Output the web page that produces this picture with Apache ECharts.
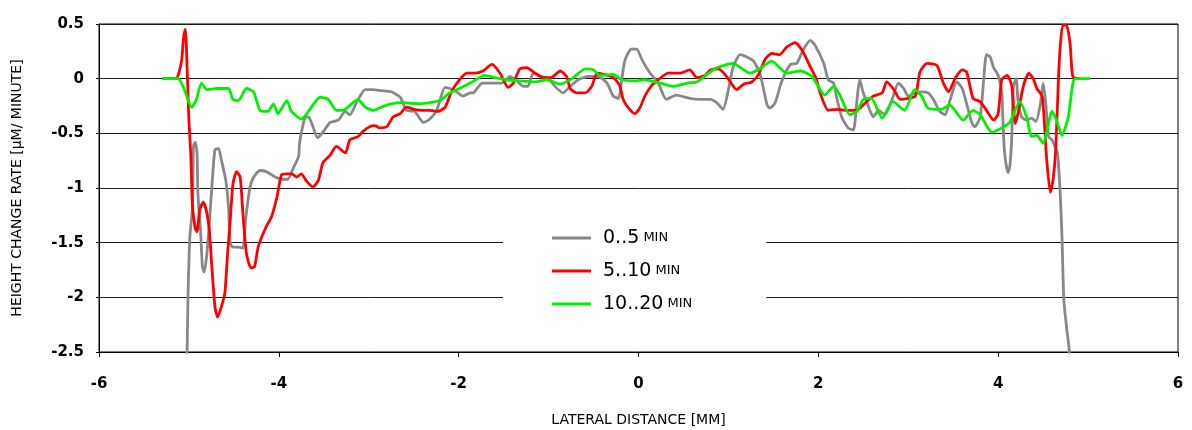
<!DOCTYPE html>
<html>
<head>
<meta charset="utf-8">
<script src="https://cdn.jsdelivr.net/npm/echarts@6/dist/echarts.min.js"></script>
<style>
html,body{margin:0;padding:0;background:#fff;}
#chart{width:1192px;height:430px;}
</style>
</head>
<body>
<div id="chart"></div>
<script>
// ---- data (lateral distance [mm], height change rate [µm/min]) ----
const seriesNames = ['0..5 MIN', '5..10 MIN', '10..20 MIN'];
const xTicks = [-6, -4, -2, 0, 2, 4, 6];
const yTicks = [0.5, 0, -0.5, -1, -1.5, -2, -2.5];
const xAxisTitle = 'LATERAL DISTANCE [MM]';
const yAxisTitle = 'HEIGHT CHANGE RATE [µM/ MINUTE]';

const gray05 = [[-5.04,-3.0],[-5.02,-2.48],[-5.01,-1.99],[-4.99,-1.45],[-4.96,-1.17],[-4.95,-0.62],[-4.93,-0.58],[-4.91,-0.68],[-4.90,-1.05],[-4.87,-1.40],[-4.85,-1.72],[-4.83,-1.77],[-4.80,-1.60],[-4.77,-1.29],[-4.74,-0.93],[-4.71,-0.65],[-4.67,-0.64],[-4.64,-0.74],[-4.59,-0.93],[-4.56,-1.17],[-4.54,-1.51],[-4.51,-1.54],[-4.45,-1.54],[-4.40,-1.55],[-4.37,-1.29],[-4.32,-0.99],[-4.28,-0.90],[-4.21,-0.84],[-4.14,-0.85],[-4.04,-0.90],[-3.97,-0.92],[-3.90,-0.92],[-3.84,-0.82],[-3.78,-0.71],[-3.77,-0.59],[-3.71,-0.36],[-3.67,-0.35],[-3.62,-0.44],[-3.57,-0.54],[-3.51,-0.49],[-3.43,-0.40],[-3.34,-0.38],[-3.26,-0.30],[-3.21,-0.33],[-3.13,-0.21],[-3.04,-0.10],[-2.95,-0.10],[-2.86,-0.11],[-2.75,-0.12],[-2.65,-0.17],[-2.58,-0.29],[-2.49,-0.30],[-2.39,-0.40],[-2.32,-0.37],[-2.24,-0.28],[-2.15,-0.08],[-2.06,-0.10],[-1.95,-0.16],[-1.87,-0.13],[-1.84,-0.13],[-1.74,-0.04],[-1.63,-0.04],[-1.52,-0.04],[-1.43,0.02],[-1.34,-0.03],[-1.28,-0.07],[-1.23,-0.07],[-1.17,0.05],[-1.08,0.02],[-1.0,0],[-0.93,-0.07],[-0.84,-0.13],[-0.76,-0.07],[-0.67,-0.01],[-0.56,0.02],[-0.45,0.02],[-0.35,-0.04],[-0.28,-0.16],[-0.22,-0.18],[-0.19,-0.03],[-0.15,0.17],[-0.08,0.27],[-0.02,0.27],[0.04,0.17],[0.13,0.05],[0.22,-0.04],[0.31,-0.19],[0.42,-0.15],[0.57,-0.18],[0.68,-0.19],[0.80,-0.19],[0.87,-0.22],[0.94,-0.28],[1.0,-0.10],[1.05,0.10],[1.13,0.22],[1.20,0.20],[1.28,0.16],[1.35,0.05],[1.43,-0.24],[1.46,-0.27],[1.52,-0.22],[1.59,-0.03],[1.69,0.13],[1.76,0.14],[1.83,0.26],[1.91,0.35],[1.96,0.31],[2.06,0.14],[2.11,-0.01],[2.17,-0.04],[2.20,-0.16],[2.26,-0.35],[2.33,-0.45],[2.39,-0.47],[2.43,-0.19],[2.46,-0.01],[2.50,-0.13],[2.56,-0.26],[2.61,-0.35],[2.67,-0.29],[2.74,-0.33],[2.82,-0.19],[2.89,-0.04],[2.95,-0.09],[3.0,-0.16],[3.08,-0.13],[3.15,-0.12],[3.22,-0.13],[3.28,-0.19],[3.35,-0.30],[3.41,-0.33],[3.46,-0.21],[3.54,-0.03],[3.60,-0.09],[3.65,-0.23],[3.71,-0.41],[3.74,-0.44],[3.80,-0.35],[3.84,0],[3.87,0.22],[3.91,0.20],[3.95,0.10],[4.0,0.03],[4.04,-0.13],[4.06,-0.53],[4.08,-0.74],[4.11,-0.86],[4.13,-0.80],[4.15,-0.56],[4.17,-0.07],[4.20,0],[4.22,-0.19],[4.26,-0.35],[4.32,-0.38],[4.37,-0.36],[4.42,-0.39],[4.47,-0.23],[4.50,-0.04],[4.53,-0.23],[4.56,-0.53],[4.60,-0.56],[4.63,-0.62],[4.66,-0.68],[4.69,-1.05],[4.71,-1.45],[4.73,-2.02],[4.76,-2.27],[4.79,-2.48],[4.80,-2.7]];

const red510 = [[-5.30,0],[-5.14,0],[-5.12,0.03],[-5.08,0.17],[-5.06,0.37],[-5.04,0.45],[-5.03,0.34],[-5.0,-0.38],[-4.98,-0.68],[-4.96,-1.17],[-4.93,-1.37],[-4.91,-1.40],[-4.88,-1.20],[-4.84,-1.13],[-4.80,-1.23],[-4.77,-1.41],[-4.75,-1.66],[-4.71,-2.09],[-4.68,-2.18],[-4.64,-2.09],[-4.60,-1.96],[-4.57,-1.60],[-4.54,-1.29],[-4.51,-0.96],[-4.47,-0.85],[-4.43,-0.90],[-4.40,-1.23],[-4.36,-1.60],[-4.31,-1.73],[-4.27,-1.72],[-4.23,-1.54],[-4.15,-1.37],[-4.08,-1.26],[-4.02,-1.08],[-3.97,-0.88],[-3.91,-0.87],[-3.86,-0.87],[-3.80,-0.90],[-3.75,-0.87],[-3.69,-0.94],[-3.62,-0.99],[-3.56,-0.93],[-3.51,-0.77],[-3.43,-0.70],[-3.36,-0.62],[-3.26,-0.68],[-3.21,-0.56],[-3.12,-0.53],[-3.06,-0.48],[-2.99,-0.44],[-2.93,-0.43],[-2.88,-0.45],[-2.80,-0.44],[-2.73,-0.35],[-2.65,-0.32],[-2.58,-0.26],[-2.50,-0.28],[-2.41,-0.29],[-2.32,-0.29],[-2.23,-0.30],[-2.15,-0.26],[-2.08,-0.12],[-2.0,-0.02],[-1.91,0.05],[-1.82,0.05],[-1.73,0.07],[-1.63,0.13],[-1.54,0.05],[-1.45,-0.08],[-1.39,-0.04],[-1.32,0.09],[-1.24,0.10],[-1.15,0.05],[-1.06,0.01],[-0.97,0.01],[-0.87,0.07],[-0.80,0.02],[-0.76,-0.09],[-0.69,-0.13],[-0.59,-0.13],[-0.52,-0.07],[-0.46,0.05],[-0.39,0.04],[-0.28,0.01],[-0.21,-0.06],[-0.17,-0.19],[-0.11,-0.27],[-0.04,-0.32],[0.02,-0.26],[0.07,-0.16],[0.15,-0.06],[0.22,-0.01],[0.33,0.05],[0.46,0.05],[0.57,0.08],[0.65,0.01],[0.74,0.03],[0.80,0.08],[0.89,0.09],[0.98,0.02],[1.09,-0.10],[1.17,-0.05],[1.26,-0.03],[1.33,0.03],[1.41,0.18],[1.48,0.23],[1.57,0.22],[1.65,0.29],[1.74,0.33],[1.82,0.26],[1.91,0.11],[1.98,-0.01],[2.02,-0.13],[2.11,-0.29],[2.20,-0.28],[2.32,-0.29],[2.43,-0.29],[2.50,-0.24],[2.61,-0.16],[2.71,-0.13],[2.76,-0.03],[2.84,-0.10],[2.91,-0.19],[3.0,-0.18],[3.08,-0.16],[3.13,0.06],[3.21,0.14],[3.32,0.12],[3.39,-0.04],[3.45,-0.12],[3.52,0],[3.60,0.08],[3.65,0.06],[3.72,-0.18],[3.80,-0.21],[3.87,-0.29],[3.95,-0.38],[4.0,-0.32],[4.04,-0.01],[4.10,0.03],[4.15,-0.06],[4.19,-0.41],[4.22,-0.32],[4.28,-0.07],[4.34,0.05],[4.39,0],[4.43,-0.09],[4.49,-0.16],[4.54,-0.74],[4.58,-1.04],[4.61,-0.93],[4.64,-0.65],[4.67,-0.01],[4.69,0.29],[4.72,0.49],[4.76,0.49],[4.80,0.32],[4.83,0.02],[4.90,0]];

const green1020 = [[-5.30,0],[-5.12,0],[-5.05,-0.10],[-4.97,-0.26],[-4.92,-0.20],[-4.86,-0.04],[-4.80,-0.10],[-4.69,-0.09],[-4.56,-0.09],[-4.51,-0.19],[-4.45,-0.20],[-4.36,-0.09],[-4.28,-0.12],[-4.21,-0.29],[-4.12,-0.30],[-4.06,-0.23],[-4.01,-0.32],[-3.91,-0.20],[-3.86,-0.30],[-3.75,-0.37],[-3.54,-0.17],[-3.45,-0.19],[-3.36,-0.29],[-3.28,-0.29],[-3.19,-0.23],[-3.12,-0.19],[-3.04,-0.26],[-2.95,-0.29],[-2.86,-0.26],[-2.75,-0.23],[-2.62,-0.22],[-2.43,-0.23],[-2.21,-0.20],[-2.10,-0.13],[-1.99,-0.09],[-1.87,-0.04],[-1.71,0.03],[-1.60,0.01],[-1.47,-0.01],[-1.32,-0.02],[-1.15,-0.03],[-1.02,-0.01],[-0.87,-0.05],[-0.74,0],[-0.59,0.09],[-0.50,0.08],[-0.43,0.03],[-0.28,0.04],[-0.19,-0.01],[-0.04,-0.02],[0.07,-0.01],[0.24,-0.04],[0.39,-0.07],[0.54,-0.04],[0.65,-0.03],[0.78,0.05],[0.87,0.10],[1.05,0.14],[1.24,0.05],[1.35,0.09],[1.48,0.16],[1.65,0.05],[1.80,0.07],[1.93,0.02],[2.02,-0.10],[2.07,-0.15],[2.17,-0.07],[2.24,-0.15],[2.35,-0.33],[2.43,-0.30],[2.50,-0.19],[2.59,-0.18],[2.71,-0.36],[2.83,-0.21],[2.96,-0.29],[3.07,-0.10],[3.15,-0.16],[3.22,-0.27],[3.37,-0.28],[3.46,-0.24],[3.61,-0.38],[3.72,-0.29],[3.80,-0.33],[3.93,-0.49],[4.04,-0.45],[4.13,-0.40],[4.24,-0.21],[4.32,-0.36],[4.37,-0.53],[4.43,-0.52],[4.50,-0.59],[4.60,-0.30],[4.65,-0.38],[4.71,-0.52],[4.78,-0.35],[4.84,-0.01],[4.91,0],[5.02,0]];

const seriesColors = ['#888888', '#ff0000', '#00f000'];
const seriesData = [gray05, red510, green1020];

// ---- chart ----
const FONT = 'DejaVu Sans';
const chart = echarts.init(document.getElementById('chart'), null, {renderer: 'canvas'});
chart.setOption({
  animation: false,
  backgroundColor: '#fff',
  grid: {left: 99, right: 14, top: 24, bottom: 78, outerBoundsMode: 'none', containLabel: false, show: true, borderColor: '#000', borderWidth: 1, backgroundColor: 'transparent'},
  legend: {
    left: 503, top: 222,
    orient: 'vertical',
    backgroundColor: '#fff',
    padding: [6, 74, 6, 49],
    itemGap: 13,
    itemWidth: 39, itemHeight: 3,
    icon: 'rect',
    data: seriesNames,
    formatter: function (name) {
      const parts = name.split(' ');
      return '{a|' + parts[0] + '}{b| ' + parts[1] + '}';
    },
    textStyle: {
      padding: [0, 0, 0, 7],
      lineHeight: 20,
      rich: {
        a: {fontFamily: FONT, fontSize: 19, color: '#000', lineHeight: 20},
        b: {fontFamily: FONT, fontSize: 13, color: '#000', lineHeight: 20}
      }
    }
  },
  xAxis: {
    type: 'value',
    min: xTicks[0], max: xTicks[xTicks.length - 1], interval: 2,
    name: xAxisTitle,
    nameLocation: 'middle',
    nameGap: 61,
    nameTextStyle: {fontFamily: FONT, fontSize: 14, color: '#000'},
    axisLine: {onZero: false, lineStyle: {color: '#000', width: 1}},
    axisTick: {show: true, length: 5, lineStyle: {color: '#000'}},
    axisLabel: {fontFamily: FONT, fontSize: 15, fontWeight: 'bold', color: '#000', margin: 25},
    splitLine: {show: false}
  },
  yAxis: {
    type: 'value',
    min: yTicks[yTicks.length - 1], max: yTicks[0], interval: 0.5,
    name: yAxisTitle,
    nameLocation: 'middle',
    nameGap: 75,
    nameRotate: 90,
    nameTextStyle: {fontFamily: FONT, fontSize: 14, color: '#000'},
    axisLine: {onZero: false, lineStyle: {color: '#000', width: 1}},
    axisTick: {show: true, length: 3, lineStyle: {color: '#000'}},
    axisLabel: {fontFamily: FONT, fontSize: 15, fontWeight: 'bold', color: '#000', margin: 15},
    splitLine: {show: true, lineStyle: {color: '#1a1a1a', width: 1}}
  },
  series: seriesNames.map(function (n, i) {
    return {
      name: n,
      type: 'line',
      data: seriesData[i],
      showSymbol: false,
      smooth: 0.2,
      clip: true,
      color: seriesColors[i],
      lineStyle: {color: seriesColors[i], width: 2.8},
      z: 2 + i
    };
  })
});
</script>
</body>
</html>
